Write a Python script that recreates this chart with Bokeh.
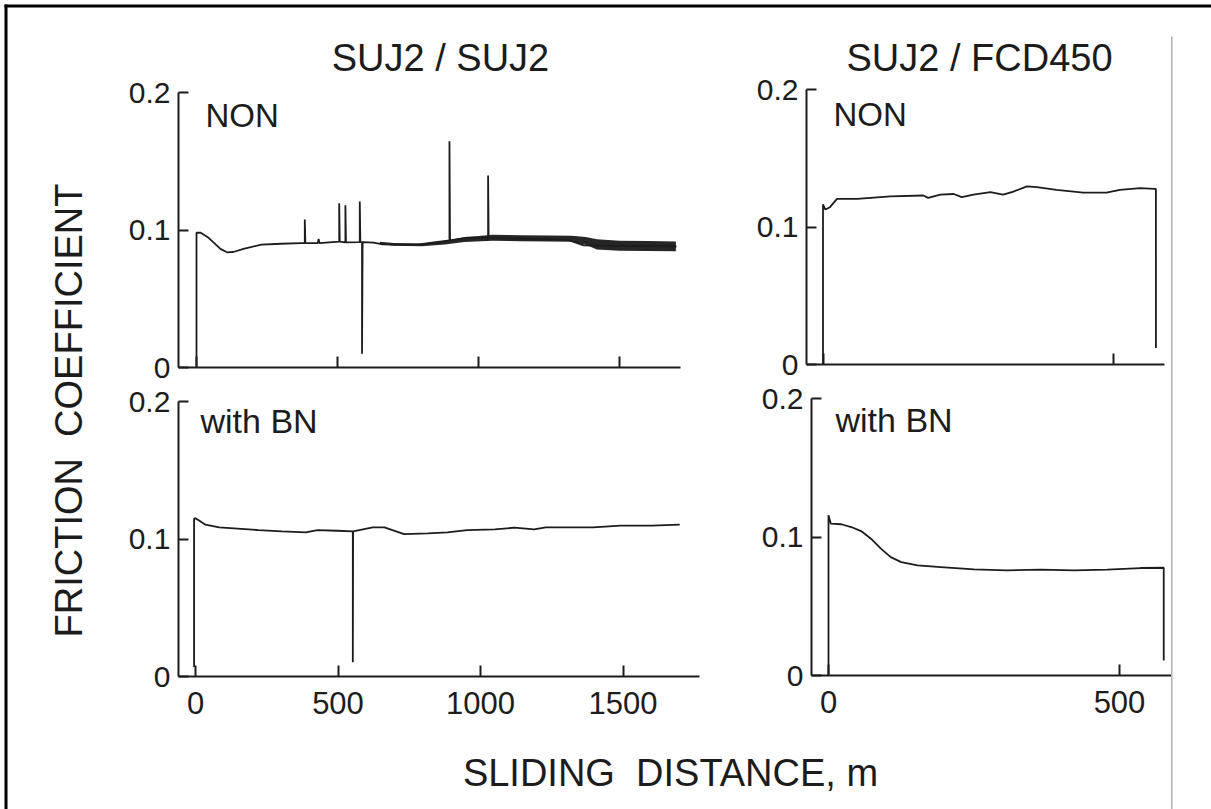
import math
from bokeh.plotting import figure
from bokeh.models import (Range1d, LinearAxis, FixedTicker, CustomJSTickFormatter,
                          Label, BoxAnnotation)
from bokeh.embed import file_html
from bokeh.resources import INLINE

# ---------------- data ----------------
col_titles = ["SUJ2 / SUJ2", "SUJ2 / FCD450"]
row_labels = ["NON", "with BN"]
x_title = "SLIDING\u00a0 DISTANCE, m"
y_title = "FRICTION\u00a0 COEFFICIENT"
y_ticks = [0, 0.1, 0.2]
x_ticks_left = [0, 500, 1000, 1500]
x_ticks_right = [0, 500]

# SUJ2/SUJ2, NON (spikes included as up/down excursions)
tl_x = [0, 0, 15, 40, 85, 108, 130, 170, 230, 300, 370, 384, 384, 386, 430, 433, 436,
        470, 506, 506, 508, 528, 528, 530, 579, 579, 581, 587, 587, 589, 628, 660, 690,
        783, 842, 897, 897, 899, 959, 1034, 1034, 1036, 1078, 1195, 1315, 1373, 1450,
        1550, 1650, 1702]
tl_y = [0.0, 0.098, 0.098, 0.0948, 0.0863, 0.0838, 0.084, 0.0865, 0.0893, 0.090, 0.0905,
        0.0905, 0.1076, 0.0905, 0.0905, 0.0935, 0.0905, 0.091, 0.0915, 0.1195, 0.0915,
        0.091, 0.118, 0.091, 0.0912, 0.1207, 0.0912, 0.0912, 0.010, 0.0912, 0.0908,
        0.0895, 0.0893, 0.0893, 0.091, 0.0925, 0.1646, 0.0925, 0.0945, 0.0942, 0.1396,
        0.0942, 0.094, 0.0936, 0.093, 0.0888, 0.0886, 0.0884, 0.0882, 0.0880]
# noise envelope of the NON trace
tl_band_x = [650, 700, 800, 880, 950, 1050, 1150, 1250, 1330, 1380, 1420, 1500, 1600, 1700]
tl_band_hi = [0.0915, 0.0905, 0.0902, 0.0920, 0.0948, 0.0965, 0.0962, 0.0960, 0.0958,
              0.0950, 0.0932, 0.0922, 0.0920, 0.0917]
tl_band_lo = [0.0900, 0.0885, 0.0882, 0.0895, 0.0912, 0.0922, 0.0918, 0.0916, 0.0914,
              0.0893, 0.0858, 0.0850, 0.0848, 0.0846]

# SUJ2/SUJ2, with BN
bl_x = [-5, -5, 0, 10, 35, 83, 221, 304, 387, 428, 497, 552, 552, 553, 622, 663, 732,
        815, 884, 953, 1050, 1119, 1188, 1229, 1395, 1492, 1602, 1699]
bl_y = [0.007, 0.115, 0.115, 0.1138, 0.1104, 0.1085, 0.1065, 0.1056, 0.1048, 0.1065,
        0.1060, 0.1056, 0.0104, 0.1056, 0.1085, 0.1085, 0.1036, 0.1041, 0.1048, 0.1065,
        0.107, 0.1082, 0.107, 0.1085, 0.1085, 0.1097, 0.1097, 0.1104]

# SUJ2/FCD450, NON
tr_x = [0, 0, 4, 12, 24, 59, 116, 173, 181, 202, 225, 239, 259, 288, 310, 328, 351,
        368, 402, 448, 488, 511, 546, 571, 573, 573]
tr_y = [0.0, 0.1164, 0.1127, 0.1144, 0.1205, 0.1205, 0.1222, 0.1229, 0.1212, 0.1236,
        0.1240, 0.1217, 0.1236, 0.1253, 0.1236, 0.1258, 0.1295, 0.129, 0.127, 0.125,
        0.125, 0.127, 0.1282, 0.1278, 0.1278, 0.012]

# SUJ2/FCD450, with BN
br_x = [0, 0, 4, 22, 39, 56, 73, 90, 107, 125, 153, 193, 250, 307, 365, 422, 479, 536,
        576, 576]
br_y = [0.0, 0.1157, 0.1096, 0.1092, 0.1072, 0.1043, 0.0988, 0.0916, 0.0855, 0.0819,
        0.0795, 0.0783, 0.0766, 0.0759, 0.0764, 0.0759, 0.0764, 0.0776, 0.0778, 0.0108]

# ---------------- layout ----------------
W, H = 1211, 809
FONT = "Liberation Sans"
INK = "#1c1c1c"

p = figure(width=W, height=H, output_backend="svg", toolbar_location=None,
           x_range=Range1d(0, W), y_range=Range1d(H, 0),
           x_axis_type=None, y_axis_type=None, min_border=0)
p.outline_line_color = None
p.background_fill_color = "white"
p.border_fill_color = "white"


def xr(x0, c0, x1, c1):
    k = (c1 - c0) / (x1 - x0)
    s = x0 - c0 / k
    return Range1d(s, s + W / k)


def yr(y0, c0, y1, c1):
    k = (c0 - c1) / (y1 - y0)
    e = y1 + c1 / k
    return Range1d(e - H / k, e)


panels = {
    "tl": dict(xr=xr(0, 196, 1000, 478), yr=yr(0, 367, 0.2, 92),
               yax=-64, xb=(-64, 1716), ticks=x_ticks_left, labels=False),
    "bl": dict(xr=xr(0, 195, 1000, 480), yr=yr(0, 676, 0.2, 401),
               yax=-60, xb=(-60, 1768), ticks=x_ticks_left, labels=True),
    "tr": dict(xr=xr(0, 822.5, 500, 1113), yr=yr(0, 364, 0.2, 89),
               yax=-28.4, xb=(-28.4, 588), ticks=x_ticks_right, labels=False),
    "br": dict(xr=xr(0, 828, 500, 1119), yr=yr(0, 675, 0.2, 398),
               yax=-29.2, xb=(-29.2, 589), ticks=x_ticks_right, labels=True),
}

p.extra_x_ranges = {k + "x": v["xr"] for k, v in panels.items()}
p.extra_y_ranges = {k + "y": v["yr"] for k, v in panels.items()}

yfmt = "return tick == 0 ? '0' : tick.toFixed(1);"

for k, v in panels.items():
    ya = LinearAxis(x_range_name=k + "x", y_range_name=k + "y", fixed_location=v["yax"],
                    bounds=(0, 0.2), ticker=FixedTicker(ticks=y_ticks),
                    formatter=CustomJSTickFormatter(code=yfmt))
    ya.major_tick_in = 10
    ya.major_tick_out = 0
    ya.minor_tick_line_color = None
    ya.axis_line_width = 2
    ya.axis_line_color = INK
    ya.major_tick_line_width = 2
    ya.major_tick_line_color = INK
    ya.major_label_standoff = 8
    ya.major_label_text_font = FONT
    ya.major_label_text_font_size = "30px"
    ya.major_label_text_color = INK
    p.add_layout(ya, "left")

    xa = LinearAxis(x_range_name=k + "x", y_range_name=k + "y", fixed_location=0,
                    bounds=v["xb"], ticker=FixedTicker(ticks=v["ticks"]),
                    formatter=CustomJSTickFormatter(
                        code="return tick.toFixed(0);" if v["labels"] else "return '';"))
    xa.major_tick_in = 11
    xa.major_tick_out = 0
    xa.minor_tick_line_color = None
    xa.axis_line_width = 2
    xa.axis_line_color = INK
    xa.major_tick_line_width = 2
    xa.major_tick_line_color = INK
    xa.major_label_standoff = 15
    xa.major_label_text_font = FONT
    xa.major_label_text_font_size = "31px"
    xa.major_label_text_color = INK
    p.add_layout(xa, "below")

# traces
p.varea(x=tl_band_x, y1=tl_band_lo, y2=tl_band_hi, fill_color="#262626",
        x_range_name="tlx", y_range_name="tly")
for k, xs, ys in [("tl", tl_x, tl_y), ("bl", bl_x, bl_y), ("tr", tr_x, tr_y),
                  ("br", br_x, br_y)]:
    p.line(xs, ys, line_color=INK, line_width=1.8, x_range_name=k + "x",
           y_range_name=k + "y")

# texts
def lab(text, x, y, size, align="left", angle=0.0):
    p.add_layout(Label(x=x, y=y, text=text, text_font=FONT, text_font_size=size,
                       text_color=INK, text_align=align, text_baseline="alphabetic",
                       angle=angle))

lab(col_titles[0], 440, 57, "38px", "center")
lab(col_titles[1], 979, 57, "38px", "center")
lab(row_labels[0], 205, 115, "33px")
lab(row_labels[0], 833, 114, "33px")
lab(row_labels[1], 200, 420, "34px")
lab(row_labels[1], 835, 419, "34px")
lab(x_title, 670, 772, "38px", "center")
lab(y_title, 68, 410, "38px", "center", math.pi / 2)

# frame of the scanned page
p.add_layout(BoxAnnotation(left=4, right=7, top=4, bottom=H, fill_color="black",
                           fill_alpha=1, line_color=None))
p.add_layout(BoxAnnotation(left=4, right=W, top=4, bottom=7, fill_color="black",
                           fill_alpha=1, line_color=None))
p.add_layout(BoxAnnotation(left=1170.5, right=1172, top=36, bottom=H, fill_color="#b0b0b0",
                           fill_alpha=1, line_color=None))

open("out.html", "w").write(file_html(p, INLINE))
